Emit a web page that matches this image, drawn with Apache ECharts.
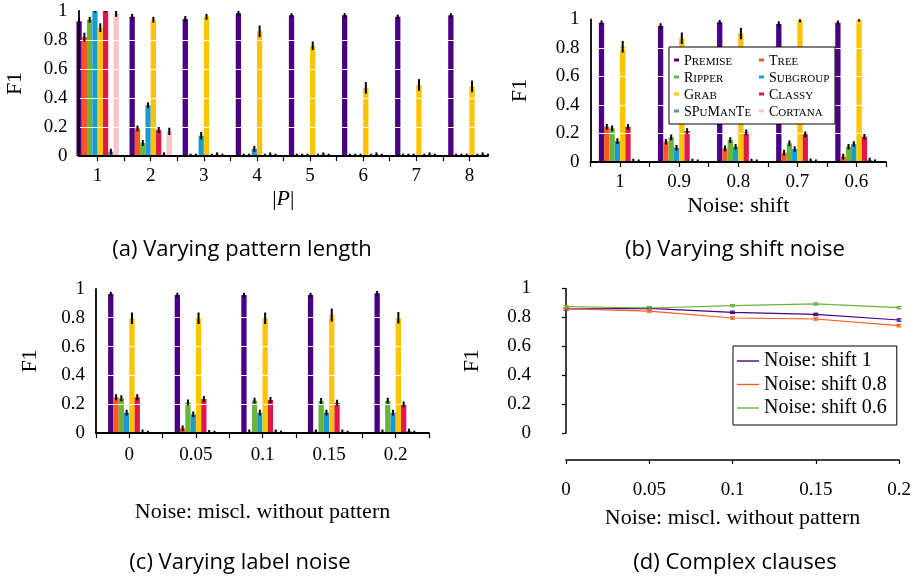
<!DOCTYPE html>
<html>
<head>
<meta charset="utf-8">
<script src="https://cdn.jsdelivr.net/npm/echarts@6/dist/echarts.min.js"></script>
<style>
html, body { margin: 0; padding: 0; background: #fff; }
#chart { width: 919px; height: 581px; }
</style>
</head>
<body>
<div id="chart"></div>
<script>
const methods = ['Premise', 'Tree', 'Ripper', 'Subgroup', 'Grab', 'Classy', 'SPuManTe', 'Cortana'];
const methodColors = ['#4b0082', '#ff5722', '#6ab43e', '#1a9ad6', '#ffc400', '#dc1a4a', '#5e8fb8', '#f8c4c4'];

// (a) varying pattern length
const lengthCats = ['1', '2', '3', '4', '5', '6', '7', '8'];
const lengthF1 = [
  [0.93, 0.96, 0.945, 0.985, 0.97, 0.97, 0.96, 0.97],
  [0.82, 0.19, 0.004, 0.004, 0.004, 0.004, 0.004, 0.004],
  [0.94, 0.09, 0.004, 0.004, 0.004, 0.004, 0.004, 0.004],
  [1.0, 0.35, 0.14, 0.05, 0.004, 0.004, 0.004, 0.004],
  [0.885, 0.94, 0.96, 0.86, 0.76, 0.47, 0.49, 0.48],
  [1.0, 0.18, 0.004, 0.004, 0.004, 0.004, 0.004, 0.004],
  [0.03, 0.01, 0.01, 0.01, 0.01, 0.01, 0.01, 0.01],
  [0.98, 0.17, 0.004, 0.004, 0.004, 0.004, 0.004, 0.004]
];
const lengthErr = [
  [0.02, 0.02, 0.02, 0.015, 0.015, 0.015, 0.015, 0.015],
  [0.03, 0.02, 0.012, 0.012, 0.012, 0.012, 0.012, 0.012],
  [0.02, 0.02, 0.012, 0.012, 0.012, 0.012, 0.012, 0.012],
  [0.01, 0.02, 0.025, 0.02, 0.012, 0.012, 0.012, 0.012],
  [0.03, 0.02, 0.02, 0.04, 0.03, 0.04, 0.04, 0.04],
  [0.01, 0.02, 0.012, 0.012, 0.012, 0.012, 0.012, 0.012],
  [0.02, 0.015, 0.015, 0.015, 0.015, 0.015, 0.015, 0.015],
  [0.02, 0.025, 0.012, 0.012, 0.012, 0.012, 0.012, 0.012]
];

// (b) varying shift noise
const shiftCats = ['1', '0.9', '0.8', '0.7', '0.6'];
const shiftF1 = [
  [0.976, 0.953, 0.98, 0.967, 0.976],
  [0.247, 0.142, 0.096, 0.065, 0.037],
  [0.236, 0.173, 0.154, 0.131, 0.107],
  [0.147, 0.10, 0.107, 0.091, 0.126],
  [0.808, 0.867, 0.90, 0.995, 0.995],
  [0.247, 0.217, 0.208, 0.194, 0.177],
  [0.008, 0.008, 0.008, 0.01, 0.015],
  [0.005, 0.005, 0.005, 0.005, 0.005]
];
const shiftErr = [
  [0.015, 0.02, 0.015, 0.02, 0.015],
  [0.02, 0.02, 0.02, 0.02, 0.02],
  [0.02, 0.02, 0.02, 0.02, 0.02],
  [0.02, 0.02, 0.02, 0.02, 0.02],
  [0.04, 0.04, 0.04, 0.015, 0.01],
  [0.02, 0.02, 0.02, 0.02, 0.02],
  [0.015, 0.015, 0.015, 0.015, 0.015],
  [0.012, 0.012, 0.012, 0.012, 0.012]
];

// (c) varying label noise, (d) complex clauses
const noiseLevels = [0, 0.05, 0.1, 0.15, 0.2];
const labelF1 = [
  [0.964, 0.957, 0.957, 0.957, 0.969],
  [0.249, 0.034, 0.01, 0.01, 0.01],
  [0.242, 0.214, 0.225, 0.223, 0.225],
  [0.142, 0.131, 0.142, 0.142, 0.142],
  [0.796, 0.796, 0.796, 0.818, 0.80],
  [0.249, 0.237, 0.23, 0.211, 0.20],
  [0.01, 0.008, 0.01, 0.01, 0.015],
  [0.005, 0.005, 0.005, 0.005, 0.005]
];
const labelErr = [
  [0.015, 0.015, 0.015, 0.015, 0.015],
  [0.02, 0.02, 0.015, 0.015, 0.015],
  [0.02, 0.02, 0.02, 0.02, 0.02],
  [0.02, 0.02, 0.02, 0.02, 0.02],
  [0.04, 0.04, 0.04, 0.045, 0.04],
  [0.02, 0.02, 0.02, 0.02, 0.02],
  [0.015, 0.015, 0.015, 0.015, 0.015],
  [0.012, 0.012, 0.012, 0.012, 0.012]
];

const clauseNames = ['Noise: shift 1', 'Noise: shift 0.8', 'Noise: shift 0.6'];
const clauseColors = ['#4b0082', '#ff5722', '#6ab43e'];
const clauseF1 = [
  [0.858, 0.863, 0.835, 0.821, 0.782],
  [0.86, 0.844, 0.796, 0.789, 0.743],
  [0.874, 0.865, 0.881, 0.893, 0.867]
];
const clauseErr = [
  [0.008, 0.008, 0.008, 0.008, 0.008],
  [0.008, 0.008, 0.008, 0.008, 0.008],
  [0.008, 0.008, 0.008, 0.008, 0.008]
];

const serif = 'Liberation Serif';
const captionFont = '22px "Open Sans"';
const barW = 5.3;

function smallCaps(name) {
  return name.replace(/([A-Z]+)|([a-z]+)/g, (m, up, low) => up ? '{c|' + up + '}' : '{s|' + low.toUpperCase() + '}');
}

const nameStyle = {
  fontFamily: serif, fontSize: 22, color: '#000',
  rich: { i: { fontFamily: serif, fontSize: 22, fontStyle: 'italic', color: '#000' } }
};

function barXAxis(gridIndex, cats, min, max, labelMargin, name, nameGap) {
  const ticks = [];
  for (let i = 0.5; i <= cats.length + 0.5; i += 0.5) {
    if (i >= min && i <= max) ticks.push(i);
  }
  return {
    type: 'value', gridIndex, min, max, z: 3,
    axisLine: { show: true, onZero: false, lineStyle: { color: '#000', width: 1.8 } },
    axisTick: { show: true, customValues: ticks, length: 5, lineStyle: { color: '#000', width: 1.2 } },
    axisLabel: {
      customValues: cats.map((c, i) => i + 1),
      formatter: v => cats[Math.round(v) - 1],
      fontFamily: serif, fontSize: 19, color: '#000', margin: labelMargin
    },
    splitLine: { show: false },
    name, nameLocation: 'middle', nameGap, nameTextStyle: nameStyle
  };
}

function barYAxis(gridIndex, nameGap) {
  return {
    type: 'value', gridIndex, min: 0, max: 1, interval: 0.2, z: 3,
    axisLine: { show: true, lineStyle: { color: '#000', width: 1.8 } },
    axisTick: { show: false },
    axisLabel: { fontFamily: serif, fontSize: 19, color: '#000', margin: 11 },
    splitLine: { show: true, showMinLine: false, showMaxLine: false, lineStyle: { color: '#fff', width: 1.2 } },
    name: 'F1', nameLocation: 'middle', nameGap, nameRotate: 90, nameTextStyle: nameStyle
  };
}

function barSeries(axisIndex, rows) {
  return rows.map((vals, m) => ({
    type: 'bar', name: methods[m], xAxisIndex: axisIndex, yAxisIndex: axisIndex,
    barWidth: barW, barGap: '0%', z: 2,
    itemStyle: { color: methodColors[m] },
    data: vals.map((v, i) => [i + 1, v])
  }));
}

function barErrors(axisIndex, rows, errs) {
  const data = [];
  rows.forEach((vals, m) => vals.forEach((v, i) => data.push([i + 1, v, m, errs[m][i]])));
  return {
    type: 'custom', xAxisIndex: axisIndex, yAxisIndex: axisIndex, z: 5, clip: true, silent: true,
    encode: { x: 0, y: 1 },
    renderItem(params, api) {
      const x = api.value(0), v = api.value(1), m = api.value(2), e = api.value(3);
      const px = api.coord([x, v])[0] + (m - 3.5) * barW;
      const y1 = api.coord([x, v + e])[1];
      const y2 = api.coord([x, Math.max(0, v - e)])[1];
      return { type: 'line', shape: { x1: px, y1, x2: px, y2 }, style: { stroke: '#000', lineWidth: 2 } };
    },
    data
  };
}

const chart = echarts.init(document.getElementById('chart'));

chart.setOption({
  backgroundColor: '#fff',
  animation: false,
  grid: [
    { left: 78.5, top: 11, width: 409.5, height: 145 },
    { left: 590.5, top: 19.3, width: 295.5, height: 142.7 },
    { left: 96, top: 288.8, width: 333, height: 144.4 },
    { left: 566, top: 288.5, width: 333, height: 144.5 }
  ],
  xAxis: [
    barXAxis(0, lengthCats, 0.64, 8.35, 11, '|{i|P}|', 32),
    barXAxis(1, shiftCats, 0.5, 5.5, 11, 'Noise: shift', 33),
    barXAxis(2, noiseLevels.map(String), 0.5, 5.5, 12, 'Noise: miscl. without pattern', 68),
    {
      type: 'value', gridIndex: 3, min: 0, max: 0.2, interval: 0.05, offset: 27,
      axisLine: { show: true, onZero: false, lineStyle: { color: '#000', width: 1.5 } },
      axisTick: { show: true, length: 4, lineStyle: { color: '#000', width: 1.2 } },
      axisLabel: { fontFamily: serif, fontSize: 19, color: '#000', margin: 21 },
      splitLine: { show: false },
      name: 'Noise: miscl. without pattern', nameLocation: 'middle', nameGap: 47, nameTextStyle: nameStyle
    }
  ],
  yAxis: [
    barYAxis(0, 52),
    barYAxis(1, 59),
    barYAxis(2, 55),
    {
      type: 'value', gridIndex: 3, min: 0, max: 1, interval: 0.2, offset: 27,
      axisLine: { show: true, lineStyle: { color: '#000', width: 1.5 } },
      axisTick: { show: true, length: 4, lineStyle: { color: '#000', width: 1.2 } },
      axisLabel: { fontFamily: serif, fontSize: 19, color: '#000', margin: 8 },
      splitLine: { show: false },
      name: 'F1', nameLocation: 'middle', nameGap: 56, nameRotate: 90, nameTextStyle: nameStyle
    }
  ],
  legend: [
    {
      data: methods.map((m, i) => i % 2 ? { name: m, textStyle: { width: 62 } } : m),
      orient: 'horizontal', left: 669, top: 47, width: 200,
      padding: [5, 4, 5, 5], itemGap: 1, itemWidth: 5, itemHeight: 3, icon: 'rect',
      borderColor: '#000', borderWidth: 1, backgroundColor: '#fff', z: 20,
      formatter: smallCaps,
      textStyle: {
        width: 74, lineHeight: 16, color: '#000', fontFamily: serif,
        rich: {
          c: { fontFamily: serif, fontSize: 14, color: '#000', verticalAlign: 'bottom', lineHeight: 16 },
          s: { fontFamily: serif, fontSize: 11, color: '#000', verticalAlign: 'bottom', lineHeight: 16 }
        }
      }
    },
    {
      data: clauseNames,
      orient: 'vertical', left: 733, top: 346, icon: 'rect',
      padding: [4, 10, 6, 4], itemGap: 1.5, itemWidth: 22, itemHeight: 1.4,
      borderColor: '#000', borderWidth: 1, backgroundColor: '#fff', z: 20,
      textStyle: { fontFamily: serif, fontSize: 20, lineHeight: 22, color: '#000' }
    }
  ],
  graphic: [
    { type: 'text', x: 242, y: 250, style: { text: '(a) Varying pattern length', align: 'center', verticalAlign: 'middle', font: captionFont, fill: '#000' } },
    { type: 'text', x: 735, y: 250, style: { text: '(b) Varying shift noise', align: 'center', verticalAlign: 'middle', font: captionFont, fill: '#000' } },
    { type: 'text', x: 240, y: 563, style: { text: '(c) Varying label noise', align: 'center', verticalAlign: 'middle', font: captionFont, fill: '#000' } },
    { type: 'text', x: 735, y: 563, style: { text: '(d) Complex clauses', align: 'center', verticalAlign: 'middle', font: captionFont, fill: '#000' } }
  ],
  series: [
    ...barSeries(0, lengthF1),
    barErrors(0, lengthF1, lengthErr),
    ...barSeries(1, shiftF1),
    barErrors(1, shiftF1, shiftErr),
    ...barSeries(2, labelF1),
    barErrors(2, labelF1, labelErr),
    ...clauseF1.map((vals, k) => ({
      type: 'line', name: clauseNames[k], xAxisIndex: 3, yAxisIndex: 3,
      symbol: 'none', z: 3,
      lineStyle: { color: clauseColors[k], width: 1.2 },
      itemStyle: { color: clauseColors[k] },
      data: vals.map((v, i) => [noiseLevels[i], v])
    })),
    {
      type: 'custom', xAxisIndex: 3, yAxisIndex: 3, z: 4, silent: true,
      encode: { x: 0, y: 1 },
      renderItem(params, api) {
        const x = api.value(0), v = api.value(1), k = api.value(2), e = api.value(3);
        const p = api.coord([x, v]);
        const yt = api.coord([x, v + e])[1], yb = api.coord([x, v - e])[1];
        const st = { stroke: clauseColors[k], lineWidth: 1.2 };
        return {
          type: 'group', children: [
            { type: 'line', shape: { x1: p[0], y1: yt, x2: p[0], y2: yb }, style: st },
            { type: 'line', shape: { x1: p[0] - 2.5, y1: yt, x2: p[0] + 2.5, y2: yt }, style: st },
            { type: 'line', shape: { x1: p[0] - 2.5, y1: yb, x2: p[0] + 2.5, y2: yb }, style: st }
          ]
        };
      },
      data: clauseF1.flatMap((vals, k) => vals.map((v, i) => [noiseLevels[i], v, k, clauseErr[k][i]]))
    }
  ]
});
</script>
</body>
</html>
